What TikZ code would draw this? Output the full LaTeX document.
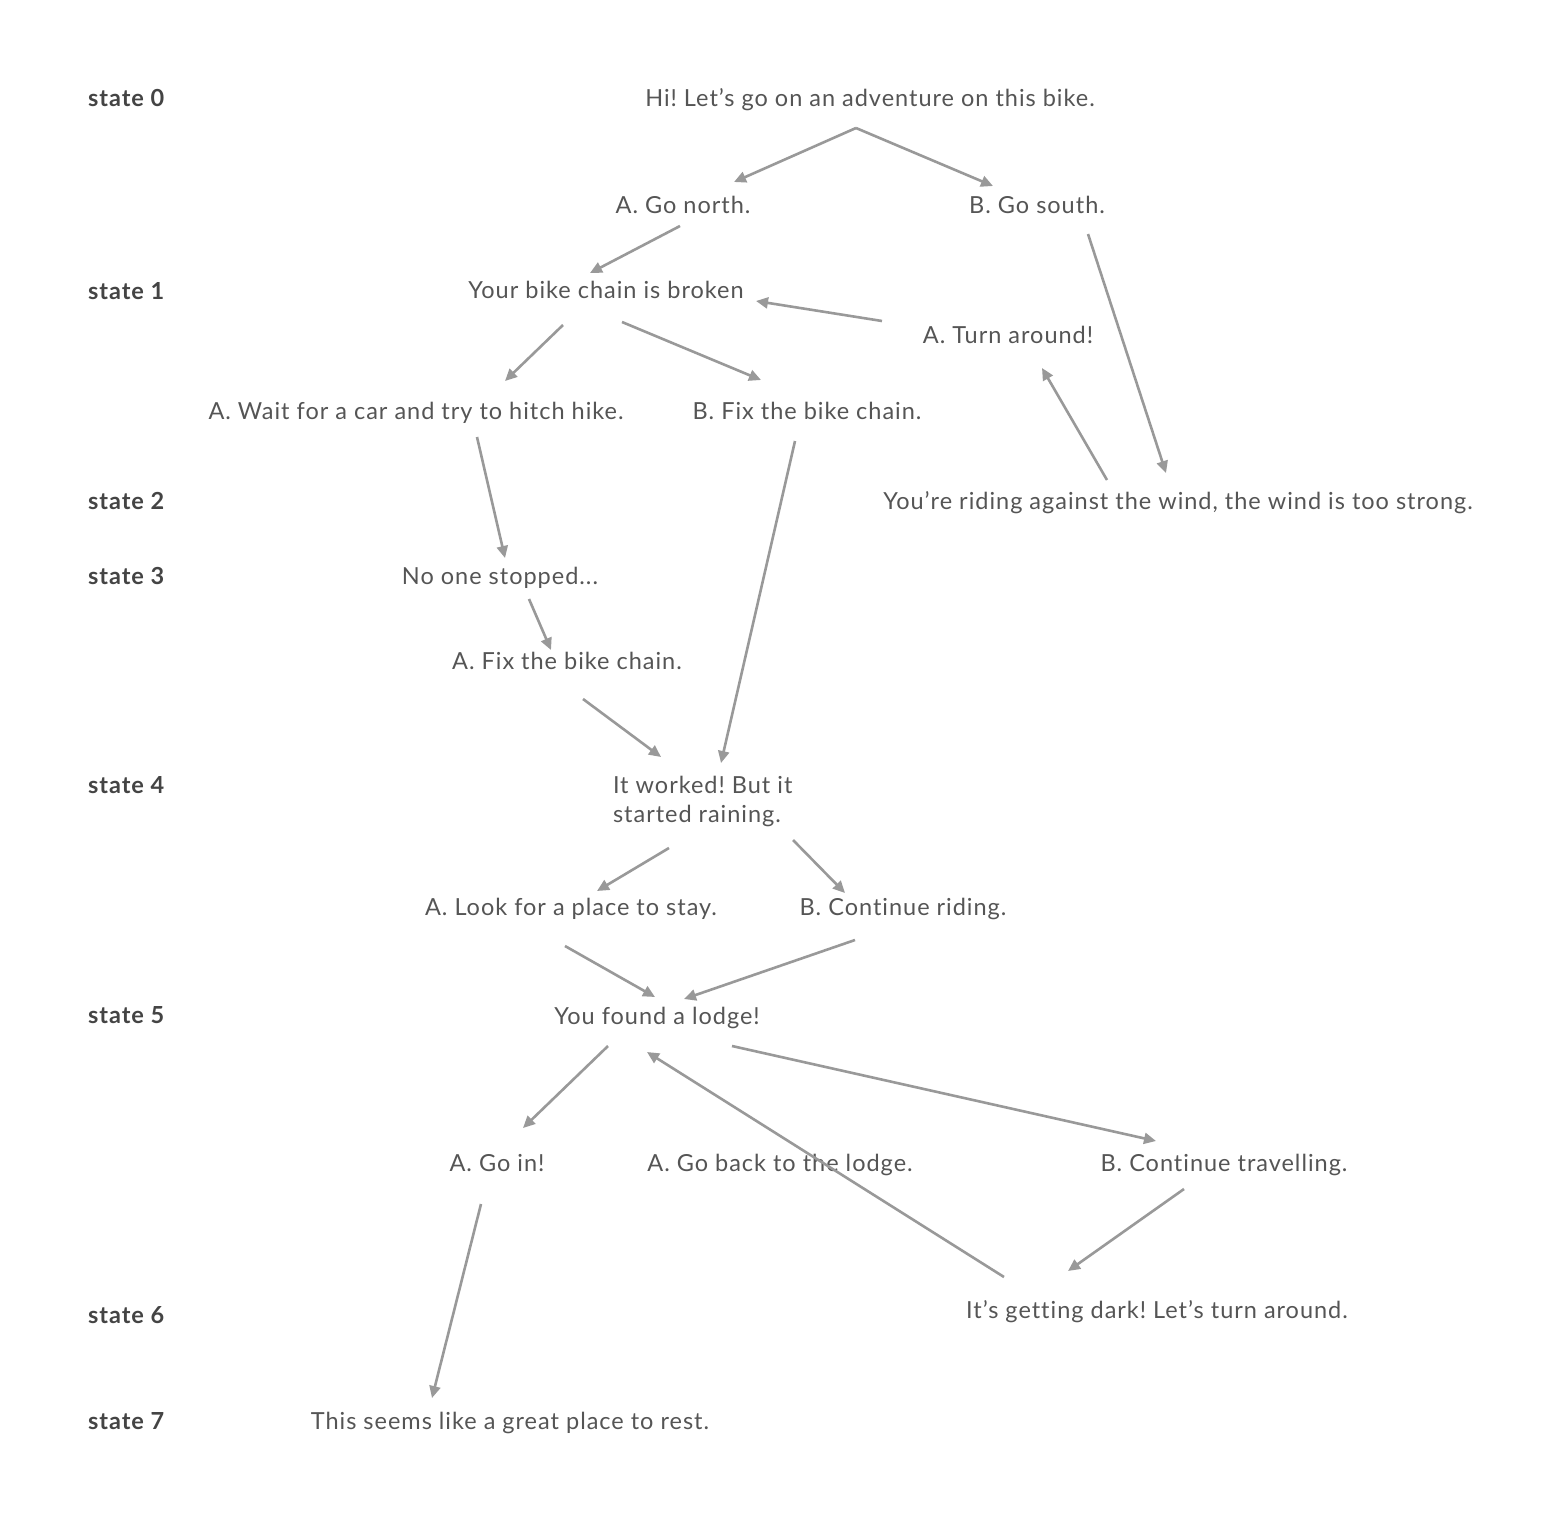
\documentclass[tikz,border=0pt]{standalone}
\usepackage{fontspec}
\setmainfont{Lato}[LetterSpace=4.2,Ligatures={NoCommon}]
\usetikzlibrary{arrows.meta}
\definecolor{txt}{HTML}{555555}
\definecolor{lbl}{HTML}{444444}
\definecolor{arr}{HTML}{999999}
\frenchspacing
\begin{document}
\begin{tikzpicture}[x=1pt,y=-1pt,
  every node/.style={inner sep=0pt,outer sep=0pt,text=txt,text height=17pt,text depth=0pt,font=\fontsize{23.5}{29}\selectfont},
  st/.style={anchor=west,text=lbl,font=\fontsize{23.5}{29}\selectfont\bfseries},
  con/.style={draw=arr,line width=2.6pt,-{Triangle[length=12pt,width=11pt]}}]
\useasboundingbox[fill=white] (0,0) rectangle (1543,1521);
% state labels
\node[st] (l0) at (88,98) {state 0};
\node[st] (l1) at (88,291) {state 1};
\node[st] (l2) at (88,501) {state 2};
\node[st] (l3) at (88,576) {state 3};
\node[st] (l4) at (88,785) {state 4};
\node[st] (l5) at (88,1015) {state 5};
\node[st] (l6) at (88,1315) {state 6};
\node[st] (l7) at (88,1421) {state 7};
% nodes
\node (n0) at (870,98) {Hi! Let’s go on an adventure on this bike.};
\node (a1) at (683,205) {A. Go north.};
\node (b1) at (1037,205) {B. Go south.};
\node (s1) at (606,290) {Your bike chain is broken};
\node (turn) at (1008,335) {A. Turn around!};
\node (wait) at (416,411) {A. Wait for a car and try to hitch hike.};
\node (fix) at (807,411) {B. Fix the bike chain.};
\node (wind) at (1178,501) {You’re riding against the wind, the wind is too strong.};
\node (noone) at (500,576) {No one stopped...};
\node (fix2) at (567,661) {A. Fix the bike chain.};
\node[align=left,anchor=north west,text height=,text depth=] (worked) at (613,776) {It worked! But it\\started raining.};
\node (look) at (571,907) {A. Look for a place to stay.};
\node (cont) at (903,907) {B. Continue riding.};
\node (lodge) at (657,1016) {You found a lodge!};
\node (goin) at (497,1163) {A. Go in!};
\node (goback) at (780,1163) {A. Go back to the lodge.};
\node (contt) at (1224,1163) {B. Continue travelling.};
\node (dark) at (1157,1310) {It’s getting dark! Let’s turn around.};
\node (rest) at (510,1421) {This seems like a great place to rest.};
% connectors
\coordinate (fork) at ([shift={(-14,30)}]n0.center);
\draw[con] (fork) -- ([shift={(51,-23)}]a1.center);
\draw[con] (fork) -- ([shift={(-44,-19)}]b1.center);
\draw[con] ([shift={(-3,21)}]a1.center) -- ([shift={(-16,-17)}]s1.center);
\draw[con] ([shift={(-126,-14)}]turn.center) -- ([shift={(150,11)}]s1.center);
\draw[con] ([shift={(-43,35)}]s1.center) -- ([shift={(89,-30)}]wait.center);
\draw[con] ([shift={(16,32)}]s1.center) -- ([shift={(-46,-31)}]fix.center);
\draw[con] ([shift={(51,29)}]b1.center) -- ([shift={(-12,-28)}]wind.center);
\draw[con] ([shift={(-71,-21)}]wind.center) -- ([shift={(34,33)}]turn.center);
\draw[con] ([shift={(61,26)}]wait.center) -- ([shift={(5,-18)}]noone.center);
\draw[con] ([shift={(-12,30)}]fix.center) -- ([shift={(108,-13)}]worked.north west);
\draw[con] ([shift={(29,23)}]noone.center) -- ([shift={(-16,-11)}]fix2.center);
\draw[con] ([shift={(16,38)}]fix2.center) -- ([shift={(48,-19)}]worked.north west);
\draw[con] ([shift={(56,72)}]worked.north west) -- ([shift={(26,-16)}]look.center);
\draw[con] ([shift={(180,64)}]worked.north west) -- ([shift={(-58,-14)}]cont.center);
\draw[con] ([shift={(-6,39)}]look.center) -- ([shift={(-2,-19)}]lodge.center);
\draw[con] ([shift={(-48,33)}]cont.center) -- ([shift={(27,-17)}]lodge.center);
\draw[con] ([shift={(-49,30)}]lodge.center) -- ([shift={(26,-35)}]goin.center);
\draw[con] ([shift={(75,30)}]lodge.center) -- ([shift={(-68,-22)}]contt.center);
\draw[con] ([shift={(-40,26)}]contt.center) -- ([shift={(-89,-39)}]dark.center);
\draw[con] ([shift={(-153,-33)}]dark.center) -- ([shift={(-10,36)}]lodge.center);
\draw[con] ([shift={(-16,41)}]goin.center) -- ([shift={(-78,-23)}]rest.center);
\end{tikzpicture}
\end{document}
